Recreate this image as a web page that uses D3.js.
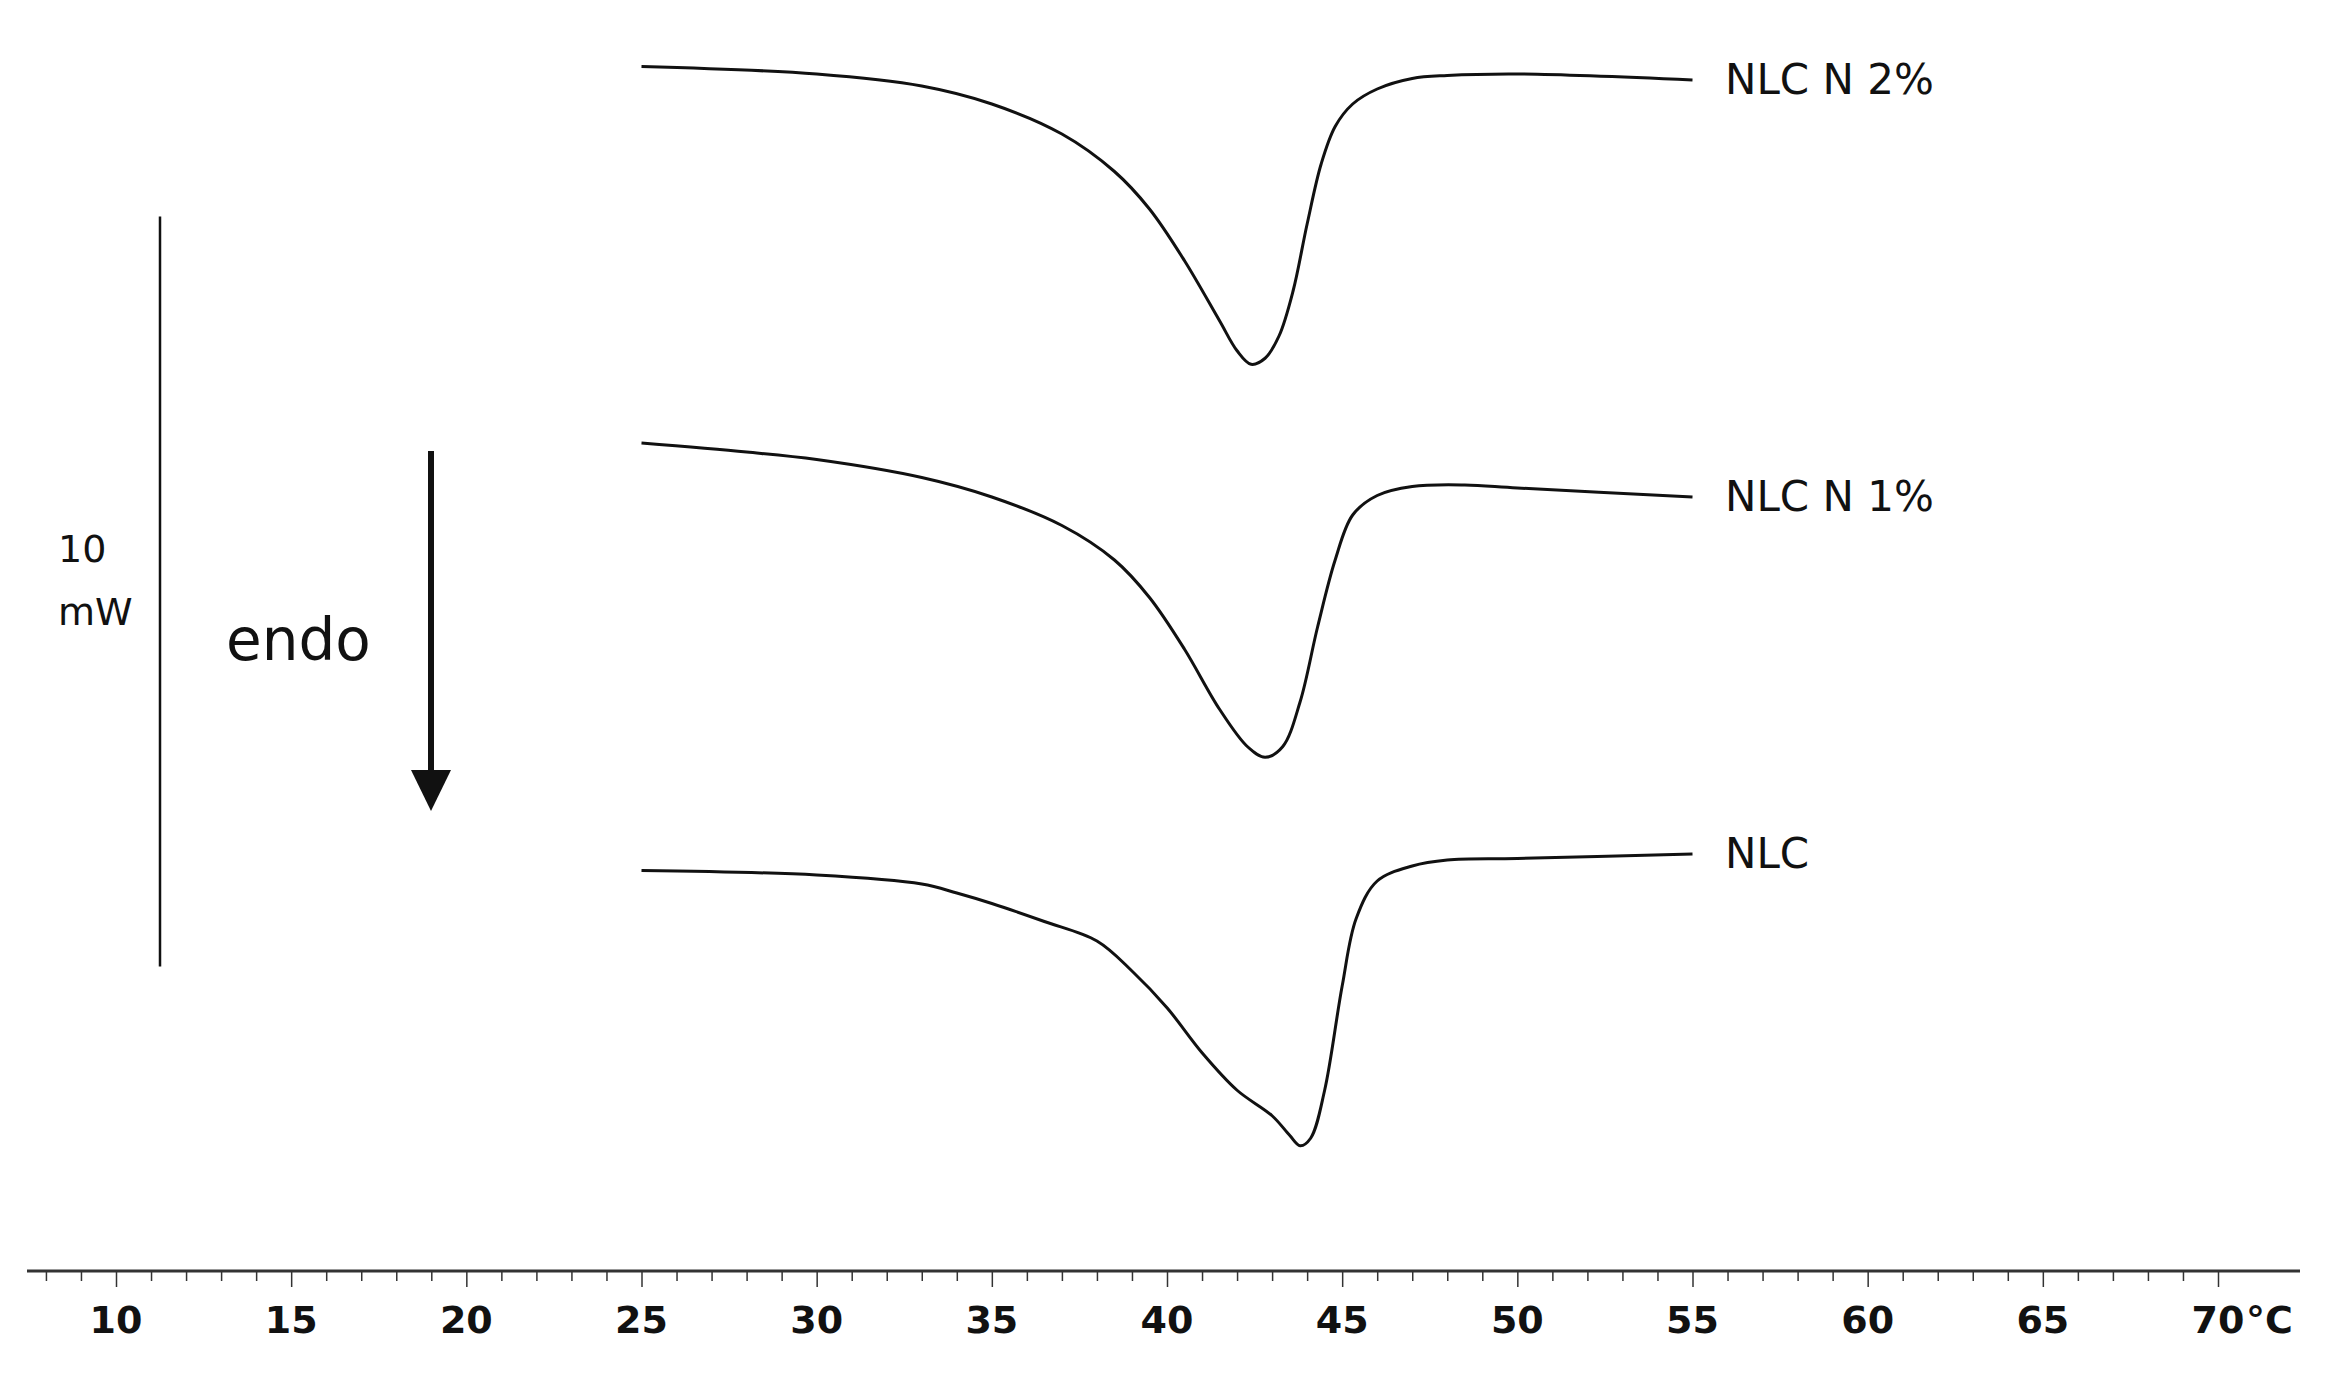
<!DOCTYPE html>
<html><head><meta charset="utf-8">
<script src="https://cdn.jsdelivr.net/npm/d3@7"></script>
<style>body{margin:0;background:#fff}</style></head>
<body><svg id="c" width="2330" height="1376"></svg>
<script>
const seriesNames = ["NLC N 2%", "NLC N 1%", "NLC"];
const tempN2 = [25,30,33,35,37,38.5,39.5,40.5,41.5,42,42.4,42.8,43.2,43.6,44,44.4,44.8,45.3,46,47,48,50,55];
const flowN2 = [16.06,15.96,15.80,15.56,15.16,14.66,14.16,13.47,12.67,12.27,12.09,12.17,12.47,13.07,13.96,14.76,15.26,15.56,15.76,15.90,15.94,15.96,15.88];
const tempN1 = [25,28,30,33,35,37,38.5,39.5,40.5,41.5,42.3,42.8,43.3,43.8,44.3,44.8,45.3,46,47,48.5,50,55];
const flowN1 = [11.04,10.92,10.82,10.58,10.32,9.94,9.48,8.98,8.29,7.49,6.99,6.85,6.99,7.59,8.59,9.48,10.08,10.34,10.46,10.48,10.44,10.32];
const tempNLC = [25,30,33,34,35,36.5,38,39,40,41,42,43,43.5,43.8,44.1,44.5,45,45.4,46,47,48,50,55];
const flowNLC = [5.34,5.28,5.16,5.04,4.90,4.66,4.40,4.00,3.51,2.91,2.41,2.07,1.81,1.67,1.77,2.41,3.80,4.70,5.20,5.40,5.48,5.50,5.56];
const tickLabels = [10,15,20,25,30,35,40,45,50,55,60,65,70];
const scaleBar = [4.06, 14.06]; // 10 mW

const svg = d3.select("#c");
const x = d3.scaleLinear().domain([10,70]).range([116,2218]);
const y = d3.scaleLinear().domain([0,17]).range([1271,-4]);
const font = "DejaVu Sans, Verdana, sans-serif";

// axis
svg.append("line").attr("x1",27).attr("x2",2300).attr("y1",1271).attr("y2",1271).attr("stroke","#333").attr("stroke-width",3);
const axis = d3.axisBottom(x).tickValues(d3.range(8,71,1)).tickSize(10).tickFormat("");
const ag = svg.append("g").attr("transform","translate(0,1271)").call(axis);
ag.select(".domain").remove();
ag.selectAll(".tick line").attr("stroke","#333").attr("stroke-width",1.5)
  .attr("y2", d => d % 5 === 0 ? 16 : 10);
svg.selectAll(".tl").data(tickLabels).enter().append("text")
  .attr("x", d => x(d)).attr("y", 1333).attr("text-anchor","middle")
  .attr("font-family",font).attr("font-weight","bold").attr("font-size",38).attr("fill","#111")
  .text(d => d);
svg.append("text").attr("x", x(70)+28).attr("y",1333).attr("font-family",font).attr("font-weight","bold")
  .attr("font-size",38).attr("fill","#111").text("°C");

// curves
const line = d3.line().x(d=>x(d[0])).y(d=>y(d[1])).curve(d3.curveCatmullRom);
const data = [d3.zip(tempN2,flowN2), d3.zip(tempN1,flowN1), d3.zip(tempNLC,flowNLC)];
data.forEach((s,i)=>{
  svg.append("path").attr("d",line(s)).attr("fill","none").attr("stroke","#111").attr("stroke-width",3);
  const last = s[s.length-1];
  svg.append("text").attr("x",1725).attr("y",y(last[1])+14).attr("font-family",font)
    .attr("font-size",42).attr("fill","#111").text(seriesNames[i]);
});

// scale bar
svg.append("line").attr("x1",160).attr("x2",160).attr("y1",y(scaleBar[1])).attr("y2",y(scaleBar[0])).attr("stroke","#111").attr("stroke-width",2.5);
svg.append("text").attr("x",58).attr("y",562).attr("font-family",font).attr("font-size",38).attr("fill","#111").text("10");
svg.append("text").attr("x",58).attr("y",625).attr("font-family",font).attr("font-size",38).attr("fill","#111").text("mW");

// endo arrow
svg.append("text").attr("x",226).attr("y",660).attr("font-family",font).attr("font-size",58).attr("fill","#111").text("endo");
svg.append("line").attr("x1",431).attr("x2",431).attr("y1",451).attr("y2",775).attr("stroke","#111").attr("stroke-width",6);
svg.append("path").attr("d","M411,770 L451,770 L431,811 Z").attr("fill","#111");
</script></body></html>
